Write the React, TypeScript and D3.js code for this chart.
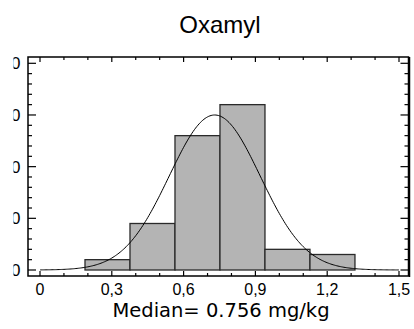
import React from "react";
import * as d3 from "d3";

const title = "Oxamyl";
const xLabel = "Median= 0.756 mg/kg";
const binEdges = [0.188, 0.376, 0.564, 0.752, 0.94, 1.128, 1.316];
const binCounts = [2, 9, 26, 32, 4, 3];
const xTickValues = [0, 0.3, 0.6, 0.9, 1.2, 1.5];
const xTickLabels = ["0", "0,3", "0,6", "0,9", "1,2", "1,5"];
const yTickValues = [0, 10, 20, 30, 40];
const yTickLabels = ["0", "10", "20", "30", "40"];
const fitMean = 0.73;
const fitSd = 0.19;

const W = 414;
const H = 329;
const frame = { left: 28, right: 408.5, top: 57, bottom: 276 };

export default function App() {
  const x = d3.scaleLinear().domain([0, 1.5]).range([40, 399]);
  const y = d3.scaleLinear().domain([0, 40]).range([270, 63.3]);

  const bins = binCounts.map((c, i) => ({ x0: binEdges[i], x1: binEdges[i + 1], c }));
  const total = d3.sum(binCounts);
  const bw = binEdges[1] - binEdges[0];
  const pdf = (v: number) =>
    (total * bw) / (fitSd * Math.sqrt(2 * Math.PI)) * Math.exp(-0.5 * ((v - fitMean) / fitSd) ** 2);
  const pts = d3.range(0, 1.5 + 1e-9, 0.005).map((v) => [v, pdf(v)] as [number, number]);
  const line = d3
    .line<[number, number]>()
    .x((d) => x(d[0]))
    .y((d) => y(d[1]))
    .curve(d3.curveBasis);

  const xMinor = d3.range(0, 1.5 + 1e-9, 0.1);
  const yMinor = d3.range(0, 40 + 1e-9, 2);
  const font = "'Liberation Sans', Arial, sans-serif";

  return (
    <svg
      width={W}
      height={H}
      style={{ position: "absolute", left: 0, top: 0, background: "#fff" }}
    >
      <defs>
        <clipPath id="ylabclip">
          <rect x={13.5} y={0} width={W} height={H} />
        </clipPath>
      </defs>
      <rect x={0} y={0} width={W} height={H} fill="#fff" />
      <text x={220} y={33} textAnchor="middle" fontFamily={font} fontSize={24} fill="#000">
        {title}
      </text>

      {bins.map((b, i) => (
        <rect
          key={i}
          x={x(b.x0)}
          y={y(b.c)}
          width={x(b.x1) - x(b.x0)}
          height={y(0) - y(b.c)}
          fill="#b4b4b4"
          stroke="#2a2a2a"
          strokeWidth={1.3}
        />
      ))}
      <path d={line(pts) || ""} fill="none" stroke="#000" strokeWidth={1} />

      {xMinor.map((v, i) => {
        const major = i % 3 === 0;
        const len = major ? 5 : 3;
        const px = x(v);
        return (
          <g key={i}>
            <line x1={px} x2={px} y1={frame.bottom} y2={frame.bottom - len} stroke="#000" strokeWidth={1.2} />
            <line x1={px} x2={px} y1={frame.top} y2={frame.top + len} stroke="#000" strokeWidth={1.2} />
          </g>
        );
      })}
      {yMinor.map((v, i) => {
        const major = i % 5 === 0;
        const len = major ? 8 : 4;
        const py = y(v);
        return (
          <g key={i}>
            <line x1={frame.left} x2={frame.left + len} y1={py} y2={py} stroke="#000" strokeWidth={1.2} />
            <line x1={frame.right} x2={frame.right - len} y1={py} y2={py} stroke="#000" strokeWidth={1.2} />
          </g>
        );
      })}

      <rect
        x={frame.left}
        y={frame.top}
        width={frame.right - frame.left}
        height={frame.bottom - frame.top}
        fill="none"
        stroke="#000"
        strokeWidth={1.5}
      />
      <line x1={frame.right + 1} x2={frame.right + 1} y1={frame.top} y2={frame.bottom + 1} stroke="#000" strokeWidth={1.5} />

      <g clipPath="url(#ylabclip)">
        {yTickValues.map((v, i) => (
          <text
            key={i}
            x={20.5}
            y={y(v) + 6}
            textAnchor="end"
            fontFamily={font}
            fontSize={17}
            fill="#000"
          >
            {yTickLabels[i]}
          </text>
        ))}
      </g>

      {xTickValues.map((v, i) => (
        <text key={i} x={x(v)} y={295} textAnchor="middle" fontFamily={font} fontSize={16} fill="#000">
          {xTickLabels[i]}
        </text>
      ))}

      <text x={221} y={317} textAnchor="middle" fontFamily="'DejaVu Sans', sans-serif" fontSize={19.5} fill="#000">
        {xLabel}
      </text>
    </svg>
  );
}
